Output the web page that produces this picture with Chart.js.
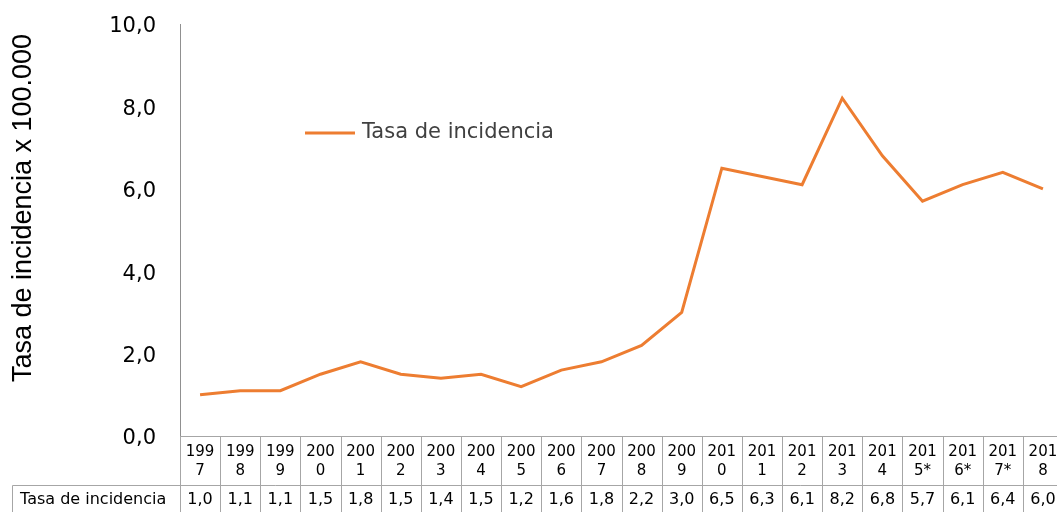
<!DOCTYPE html>
<html>
<head>
<meta charset="utf-8">
<script src="https://cdn.jsdelivr.net/npm/chart.js@4/dist/chart.umd.min.js"></script>
<style>
  body { margin: 0; overflow: hidden; background: #fff; }
  #wrap { position: relative; width: 1063px; height: 512px; }
</style>
</head>
<body>
<div id="wrap"><canvas id="grafico"></canvas></div>
<script>
const anos = ["1997", "1998", "1999", "2000", "2001", "2002", "2003", "2004", "2005", "2006", "2007",
  "2008", "2009", "2010", "2011", "2012", "2013", "2014", "2015*", "2016*", "2017*", "2018"];
const tasa = [1.0, 1.1, 1.1, 1.5, 1.8, 1.5, 1.4, 1.5, 1.2, 1.6, 1.8,
  2.2, 3.0, 6.5, 6.3, 6.1, 8.2, 6.8, 5.7, 6.1, 6.4, 6.0];
const yTicks = [0, 2, 4, 6, 8, 10];
const nomeSerie = "Tasa de incidencia";
const tituloY = "Tasa de incidencia x 100.000";

const laranja = "#ED7D31";
const cinzaTabela = "#a6a6a6";

function virgula(v) {
  return v.toFixed(1).replace(".", ",");
}

// tabela de dados abaixo do gráfico, legenda e título do eixo
const tabelaPlugin = {
  id: "tabela",
  afterDraw(chart) {
    const ctx = chart.ctx;
    const xs = chart.scales.x;
    const area = chart.chartArea;
    const meia = (xs.getPixelForValue(1) - xs.getPixelForValue(0)) / 2;
    const topo = area.bottom;
    const linha = 485.5;
    const fim = chart.height;

    ctx.save();
    ctx.strokeStyle = cinzaTabela;
    ctx.lineWidth = 1;
    ctx.beginPath();
    anos.forEach(function (a, i) {
      const x = Math.round(xs.getPixelForValue(i) - meia) + 0.5;
      ctx.moveTo(x, topo);
      ctx.lineTo(x, fim);
    });
    const xr = Math.round(xs.getPixelForValue(anos.length - 1) + meia) + 0.5;
    ctx.moveTo(xr, topo);
    ctx.lineTo(xr, fim);
    ctx.moveTo(12.5, linha);
    ctx.lineTo(xr, linha);
    ctx.moveTo(12.5, linha);
    ctx.lineTo(12.5, fim);
    ctx.stroke();

    ctx.fillStyle = "#000";
    ctx.textAlign = "center";
    ctx.textBaseline = "middle";
    ctx.font = "15px 'DejaVu Sans'";
    anos.forEach(function (a, i) {
      const cx = xs.getPixelForValue(i);
      ctx.fillText(a.slice(0, 3), cx, 452);
      ctx.fillText(a.slice(3), cx, 471);
    });
    ctx.font = "16px 'DejaVu Sans'";
    tasa.forEach(function (v, i) {
      ctx.fillText(virgula(v), xs.getPixelForValue(i), 500);
    });
    ctx.textAlign = "left";
    ctx.fillText(nomeSerie, 20, 500);

    // legenda
    ctx.strokeStyle = laranja;
    ctx.lineWidth = 3;
    ctx.beginPath();
    ctx.moveTo(305, 133);
    ctx.lineTo(355, 133);
    ctx.stroke();
    ctx.fillStyle = "#404040";
    ctx.font = "21px 'DejaVu Sans'";
    ctx.fillText(nomeSerie, 362, 133);

    // título do eixo y
    ctx.translate(24, 208);
    ctx.rotate(-Math.PI / 2);
    ctx.textAlign = "center";
    ctx.fillStyle = "#000";
    ctx.font = "27px 'Liberation Sans'";
    ctx.fillText(tituloY, 0, 0);
    ctx.restore();
  },
};

new Chart(document.getElementById("grafico"), {
  type: "line",
  data: {
    labels: anos,
    datasets: [
      {
        label: nomeSerie,
        data: tasa,
        borderColor: laranja,
        backgroundColor: laranja,
        borderWidth: 3,
        pointRadius: 0,
        tension: 0,
      },
    ],
  },
  options: {
    responsive: true,
    maintainAspectRatio: false,
    animation: false,
    layout: { padding: { top: 24, bottom: 76, right: 0, left: 0 } },
    plugins: {
      legend: { display: false },
      tooltip: { enabled: false },
    },
    scales: {
      x: {
        offset: true,
        ticks: { display: false },
        grid: { display: false, drawTicks: false },
        border: { display: true, color: cinzaTabela },
      },
      y: {
        min: 0,
        max: 10,
        afterBuildTicks: function (scale) {
          scale.ticks = yTicks.map(function (v) { return { value: v }; });
        },
        afterFit: function (scale) {
          scale.width = 180;
          scale.paddingTop = 0;
          scale.paddingBottom = 0;
        },
        ticks: {
          padding: 24,
          labelOffset: 3,
          color: "#000",
          font: { family: "DejaVu Sans", size: 21 },
          callback: function (v) { return virgula(v); },
        },
        grid: { display: false, drawTicks: false },
        border: { display: true, color: "#909090" },
      },
    },
  },
  plugins: [tabelaPlugin],
});
</script>
</body>
</html>
